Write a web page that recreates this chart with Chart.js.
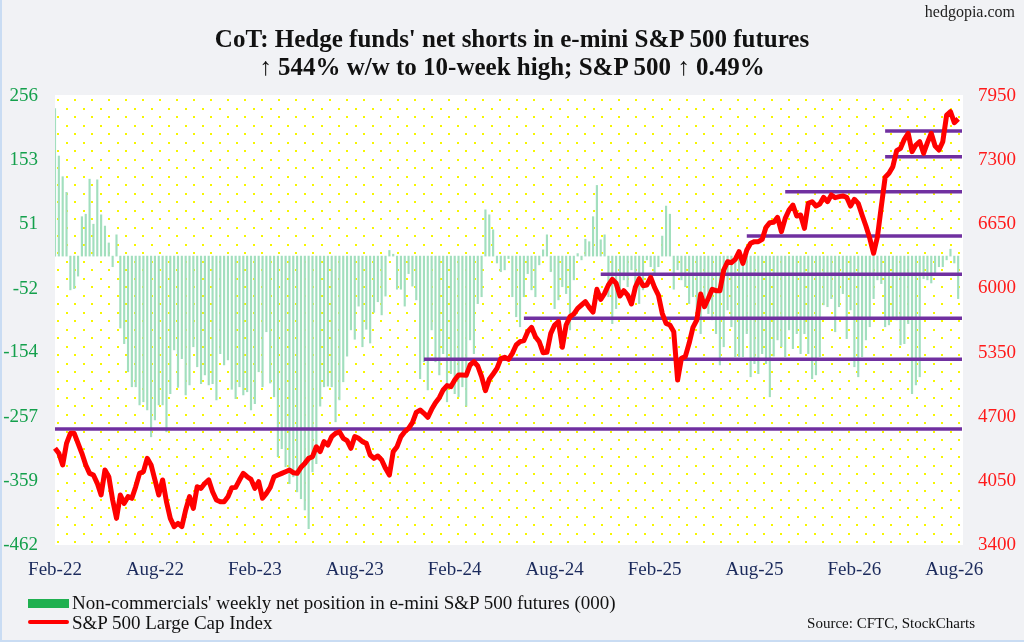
<!DOCTYPE html>
<html>
<head>
<meta charset="utf-8">
<script src="https://cdn.jsdelivr.net/npm/chart.js@4.4.1/dist/chart.umd.min.js"></script>
<style>
  html, body { margin: 0; padding: 0; }
  body { width: 1024px; height: 642px; overflow: hidden; background: #f1f2f5; font-family: "Liberation Serif", "DejaVu Serif", serif; }
  #wrap { position: relative; width: 1024px; height: 642px; }
  #frame { position: absolute; left: 0; top: 0; width: 1022px; height: 640px; border-left: 2px solid #c9dcf3; border-bottom: 2px solid #c9dcf3; pointer-events: none; }
  canvas { position: absolute; left: 0; top: 0; }
  .title { position: absolute; left: 0; width: 1024px; text-align: center; font-weight: bold; font-size: 25px; color: #111; }
  #brand { position: absolute; right: 9px; top: 3px; font-size: 16px; color: #222; }
  .leg { position: absolute; left: 72px; font-size: 19px; color: #111; white-space: nowrap; }
  .sw { position: absolute; left: 28px; width: 41px; }
  #src { position: absolute; right: 49px; top: 615px; font-size: 15px; color: #111; }
</style>
</head>
<body>
<div id="wrap">
  <canvas id="cotChart" width="1024" height="642"></canvas>
  <div id="frame"></div>
  <div class="title" style="top:25px">CoT: Hedge funds' net shorts in e-mini S&amp;P 500 futures</div>
  <div class="title" style="top:53px">↑ 544% w/w to 10-week high; S&amp;P 500 ↑ 0.49%</div>
  <div id="brand">hedgopia.com</div>
  <div class="sw" style="top:599px;height:9px;background:#1fb050"></div>
  <div class="leg" style="top:592px">Non-commercials' weekly net position in e-mini S&amp;P 500 futures (000)</div>
  <div class="sw" style="top:620px;height:4px;background:#ff0000;border-radius:2px"></div>
  <div class="leg" style="top:612px">S&amp;P 500 Large Cap Index</div>
  <div id="src">Source: CFTC, StockCharts</div>
</div>
<script>
// weekly data, first week of Feb-22 to first week of Aug-26
const netPosition = [
  236, 160, 127, 102, -54, -52, -32, 63, 67, 123, 51, 122, 66, 48, 21, -17, 34, -115, -140, -185,
  -209, -209, -238, -233, -246, -289, -262, -238, -238, -281, -220, -150, -210, -164, -222, -206, -145, -177, -204, -190,
  -206, -204, -230, -156, -174, -166, -213, -228, -209, -222, -217, -246, -236, -185, -209, -121, -203, -225, -321, -308,
  -337, -364, -353, -377, -388, -406, -436, -345, -332, -240, -209, -208, -209, -265, -230, -201, -160, -118, -133, -80,
  -145, -117, -139, -90, -73, -94, -64, 9, 3, -53, -53, -80, -28, -48, -70, -196, -169, -214, -118, -169,
  -190, -156, -233, -188, -220, -225, -209, -240, -134, -156, -76, -65, 74, 66, 42, -11, -25, -22, -4, -65,
  -97, -113, -65, -28, -54, -65, -14, 10, 34, -25, -84, -70, -49, -60, -118, -38, 4, -6, 27, 23,
  63, 113, 26, 34, -65, -108, -84, -54, -38, -49, -22, -57, -76, -54, -6, -17, -28, -17, 32, 80,
  67, -53, -22, -38, -49, -76, -65, -92, -124, -81, -92, -102, -124, -174, -145, -86, -113, -161, -161, -161,
  -124, -193, -172, -188, -156, -172, -225, -160, -134, -145, -161, -118, -148, -124, -156, -124, -156, -196, -190, -161,
  -78, -81, -68, -121, -81, -60, -132, -86, -177, -193, -161, -134, -113, -68, -38, -44, -113, -110, -97, -102,
  -142, -140, -108, -220, -206, -193, -36, -38, -43, -28, -17, -17, -6, 11, -11, -68
];
const spx = [
  4380, 4329, 4211, 4430, 4532, 4532, 4430, 4329, 4211, 4126, 4109, 4025, 3907, 4160, 4092, 3856, 3670, 3907, 3822, 3890,
  3873, 3991, 4126, 4143, 4278, 4211, 4059, 3907, 4059, 3839, 3670, 3586, 3619, 3586, 3755, 3890, 3771, 3991, 3974, 4025,
  4059, 3940, 3856, 3839, 3839, 3890, 3980, 3984, 4058, 4126, 4092, 4065, 3974, 4041, 3873, 3923, 3984, 4092, 4109, 4126,
  4143, 4160, 4133, 4126, 4187, 4227, 4278, 4295, 4396, 4346, 4447, 4413, 4498, 4531, 4548, 4481, 4457, 4380, 4498, 4481,
  4447, 4430, 4312, 4278, 4302, 4261, 4177, 4109, 4346, 4396, 4498, 4548, 4582, 4640, 4744, 4768, 4734, 4694, 4775, 4842,
  4893, 4971, 5015, 5004, 5072, 5123, 5123, 5119, 5224, 5258, 5214, 5106, 4964, 5079, 5133, 5190, 5288, 5302, 5281, 5342,
  5427, 5460, 5471, 5562, 5606, 5511, 5460, 5349, 5352, 5545, 5629, 5663, 5403, 5629, 5714, 5741, 5798, 5832, 5866, 5808,
  5760, 5991, 5889, 5950, 6035, 6092, 6052, 5923, 5977, 5933, 5842, 6011, 6099, 6028, 6035, 6112, 6011, 5933, 5748, 5646,
  5629, 5562, 5072, 5292, 5309, 5444, 5606, 5680, 5943, 5815, 5900, 5991, 5977, 5977, 6187, 6271, 6261, 6295, 6372, 6254,
  6389, 6457, 6474, 6474, 6497, 6619, 6666, 6670, 6720, 6575, 6710, 6795, 6845, 6734, 6744, 6609, 6862, 6879, 6835, 6856,
  6923, 6879, 6947, 6920, 6930, 6937, 6923, 6835, 6903, 6862, 6744, 6633, 6508, 6356, 6524, 6829, 7126, 7166, 7234, 7396,
  7420, 7511, 7572, 7386, 7453, 7487, 7369, 7477, 7572, 7443, 7403, 7487, 7757, 7791, 7680, 7718
];
// support / resistance levels on the S&P scale, with the week each one starts
const levels = [4575, 5282, 5697, 6143, 6531, 6980, 7335, 7595];
const levelStart = [0, 96, 122, 142, 180, 190, 216, 216];

const xTickLabels = ['Feb-22', 'Aug-22', 'Feb-23', 'Aug-23', 'Feb-24', 'Aug-24', 'Feb-25', 'Aug-25', 'Feb-26', 'Aug-26'];
const leftTicks = [256, 153, 51, -52, -154, -257, -359, -462];
const rightTicks = [3400, 4050, 4700, 5350, 6000, 6650, 7300, 7950];

const nWeeks = 237; // one spare slot so the last bar sits inside the frame
const labels = [];
for (let i = 0; i < nWeeks; i++) labels.push('w' + i);

const levelSets = levels.map((lv, k) => ({
  type: 'line',
  data: labels.map((_, i) => i >= levelStart[k] ? lv : null),
  yAxisID: 'y2',
  borderColor: '#7030a0',
  borderWidth: 3.5,
  pointRadius: 0,
  order: 1,
  spanGaps: false
}));

const dots = {
  id: 'dots',
  beforeDraw(chart) {
    const {ctx, chartArea: {left, top, right, bottom}} = chart;
    ctx.save();
    ctx.fillStyle = '#ffffff';
    ctx.fillRect(left, top - 1, right - left + 1, bottom - top + 1);
    ctx.fillStyle = '#f6f600';
    let row = 0;
    for (let y = top + 4; y < bottom; y += 8.5, row++) {
      for (let x = left + 3 + (row % 2 ? 8.5 : 0); x < right; x += 17) {
        ctx.fillRect(Math.round(x) - 1, Math.round(y) - 1, 2, 2);
      }
    }
    ctx.restore();
  }
};

const serif = '"Liberation Serif", "DejaVu Serif", serif';
const ctx = document.getElementById('cotChart').getContext('2d');
const chart = new Chart(ctx, {
  type: 'bar',
  data: {
    labels,
    datasets: [
      { type: 'line', label: 'S&P 500 Large Cap Index', data: spx, yAxisID: 'y2',
        borderColor: '#ff0000', borderWidth: 5, pointRadius: 0, borderJoinStyle: 'round', order: 0 },
      ...levelSets,
      { type: 'bar', label: 'Net position', data: netPosition, yAxisID: 'y',
        backgroundColor: '#a2dfbe', barThickness: 1.5, order: 2 }
    ]
  },
  options: {
    responsive: false,
    animation: false,
    layout: { padding: { top: 96, left: 0, right: 0, bottom: 0 } },
    plugins: { legend: { display: false }, tooltip: { enabled: false } },
    scales: {
      x: {
        offset: false,
        grid: { display: false },
        border: { display: false },
        ticks: {
          autoSkip: false, maxRotation: 0, padding: 6, color: '#1b2a5c',
          font: { family: serif, size: 19 },
          callback: (v, i) => i % 26 === 0 ? xTickLabels[i / 26] : ''
        },
        afterFit: s => { s.height = 97; }
      },
      y: {
        position: 'left', min: -462, max: 256,
        grid: { display: false, drawTicks: false }, border: { display: false },
        afterBuildTicks: s => { s.ticks = leftTicks.map(v => ({ value: v })); },
        ticks: { color: '#14a04c', padding: 17, font: { family: serif, size: 19 }, callback: v => v },
        afterFit: s => { s.width = 55; }
      },
      y2: {
        position: 'right', min: 3400, max: 7950,
        grid: { display: false, drawTicks: false }, border: { display: false },
        afterBuildTicks: s => { s.ticks = rightTicks.map(v => ({ value: v })); },
        ticks: { color: '#ff1a1a', padding: 16, font: { family: serif, size: 19 }, callback: v => v },
        afterFit: s => { s.width = 62; }
      }
    }
  },
  plugins: [dots]
});
</script>
</body>
</html>
